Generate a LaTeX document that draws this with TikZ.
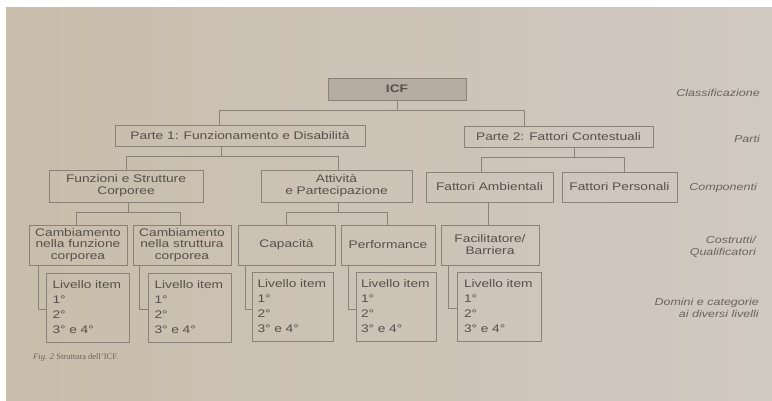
\documentclass[tikz,border=0pt]{standalone}
\usepackage{fontspec}
\setmainfont{Liberation Sans}[FakeStretch=1.25]
\newfontfamily\capfont{Liberation Serif}
\usetikzlibrary{calc}
\definecolor{bgl}{HTML}{C9BDAB}
\definecolor{bgr}{HTML}{D0C9C2}
\definecolor{txt}{HTML}{57504A}
\definecolor{lbl}{HTML}{6A625B}
\definecolor{ln}{HTML}{8A8279}
\definecolor{icffill}{HTML}{B5ACA2}
\newcommand{\lvtext}{\mbox{Livello item}\\1°\\2°\\3° e 4°}
\tikzset{
  box/.style={draw=ln, line width=0.9pt, inner sep=0pt, align=center, text=txt,
    font=\fontsize{11}{12}\selectfont},
  lvbox/.style={draw=ln, line width=0.9pt, inner ysep=0pt, align=left, text width=70pt,
    text=txt, minimum height=69pt, font=\fontsize{11}{15}\selectfont},
  conn/.style={draw=ln, line width=0.9pt},
  side/.style={anchor=east, align=right, text=lbl, inner sep=0pt,
    font=\fontsize{10}{11.5}\selectfont\itshape}
}
\begin{document}
\begin{tikzpicture}[x=1pt,y=-1pt]
\useasboundingbox (0,0) rectangle (772,401);
\fill[white] (0,0) rectangle (772,401);
\shade[left color=bgl, right color=bgr] (6,8) rectangle (772,401);

% level 0
\node[box, fill=icffill, minimum width=138pt, minimum height=22pt, font=\fontsize{11}{12}\selectfont\bfseries] (icf) at (397,89) {ICF};
% level 1
\node[box, minimum width=250pt, minimum height=21pt] (p1) at (240,135.5) {Parte 1: Funzionamento e Disabilità};
\node[box, minimum width=189pt, minimum height=21pt] (p2) at (558.5,136.5) {Parte 2: Fattori Contestuali};
% level 2
\node[box, minimum width=154pt, minimum height=32pt] (fsc) at (126,186) {Funzioni e Strutture\\Corporee};
\node[box, minimum width=151pt, minimum height=32pt] (ap) at (336.5,186) {Attività\\e Partecipazione};
\node[box, minimum width=127pt, minimum height=30pt] (fa) at (489.5,187) {Fattori Ambientali};
\node[box, minimum width=115pt, minimum height=30pt] (fp) at (619.5,187) {Fattori Personali};
% level 3
\node[box, minimum width=98pt, minimum height=40pt, font=\fontsize{11}{11.5}\selectfont] (c1) at (78,245) {Cambiamento\\nella funzione\\corporea};
\node[box, minimum width=98pt, minimum height=40pt, font=\fontsize{11}{11.5}\selectfont] (c2) at (182,245) {Cambiamento\\nella struttura\\corporea};
\node[box, minimum width=97pt, minimum height=40pt] (cap) at (286.5,245) {Capacità};
\node[box, minimum width=94pt, minimum height=40pt] (perf) at (388,245) {Performance};
\node[box, minimum width=98pt, minimum height=40pt] (fb) at (490,245) {Facilitatore/\\Barriera};
% level 4
\node[lvbox, inner xsep=6.5pt] (l1) at (87.5,307.5) {\lvtext};
\node[lvbox, inner xsep=6.5pt] (l2) at (189.5,307.5) {\lvtext};
\node[lvbox, inner xsep=5.5pt] (l3) at (292.5,306.5) {\lvtext};
\node[lvbox, inner xsep=5pt] (l4) at (396,306.5) {\lvtext};
\node[lvbox, inner xsep=7pt] (l5) at (499,306.5) {\lvtext};

% connectors level 0 -> 1
\coordinate (a1) at (219,110);
\coordinate (a2) at (524,110);
\draw[conn] (icf.south) -- (icf.south |- a1);
\draw[conn] (a1) -- (a2);
\draw[conn] (a1) -- (a1 |- p1.north);
\draw[conn] (a2) -- (a2 |- p2.north);
% parte 1 -> components
\coordinate (b0) at (221,156);
\coordinate (b1) at (126,156);
\coordinate (b2) at (338,156);
\draw[conn] (b0 |- p1.south) -- (b0);
\draw[conn] (b1) -- (b2);
\draw[conn] (b1) -- (b1 |- fsc.north);
\draw[conn] (b2) -- (b2 |- ap.north);
% parte 2 -> components
\coordinate (e0) at (574,157);
\coordinate (e1) at (481,157);
\coordinate (e2) at (624,157);
\draw[conn] (e0 |- p2.south) -- (e0);
\draw[conn] (e1) -- (e2);
\draw[conn] (e1) -- (e1 |- fa.north);
\draw[conn] (e2) -- (e2 |- fp.north);
% funzioni -> cambiamenti
\coordinate (f0) at (128,212);
\coordinate (f1) at (76,212);
\coordinate (f2) at (180,212);
\draw[conn] (f0 |- fsc.south) -- (f0);
\draw[conn] (f1) -- (f2);
\draw[conn] (f1) -- (f1 |- c1.north);
\draw[conn] (f2) -- (f2 |- c2.north);
% attivita -> capacita / performance
\coordinate (g0) at (338,212);
\coordinate (g1) at (286,212);
\coordinate (g2) at (387,212);
\draw[conn] (g0 |- ap.south) -- (g0);
\draw[conn] (g1) -- (g2);
\draw[conn] (g1) -- (g1 |- cap.north);
\draw[conn] (g2) -- (g2 |- perf.north);
% ambientali -> facilitatore
\coordinate (h0) at (488,202);
\draw[conn] (h0 |- fa.south) -- (h0 |- fb.north);
% brackets to livello boxes
\coordinate (k1) at (38,309);
\coordinate (k2) at (139,309);
\coordinate (k3) at (245,309);
\coordinate (k4) at (348,309);
\coordinate (k5) at (448,308);
\draw[conn] (k1 |- c1.south) -- (k1) -- (k1 -| l1.west);
\draw[conn] (k2 |- c2.south) -- (k2) -- (k2 -| l2.west);
\draw[conn] (k3 |- cap.south) -- (k3) -- (k3 -| l3.west);
\draw[conn] (k4 |- perf.south) -- (k4) -- (k4 -| l4.west);
\draw[conn] (k5 |- fb.south) -- (k5) -- (k5 -| l5.west);

% side labels
\node[side] (s1) at (760,93) {Classificazione};
\node[side] (s2) at (760,139) {Parti};
\node[side] (s3) at (757,188) {Componenti};
\node[side] (s4) at (756,247) {Costrutti/\\Qualificatori};
\node[side] (s5) at (759,308) {Domini e categorie\\ai diversi livelli};

% caption
\node[anchor=west, inner sep=0pt, text=lbl, font=\capfont\fontsize{8.5}{9}\selectfont] (cap0) at (33,357) {\textit{Fig. 2} Struttura dell’ICF.};
\end{tikzpicture}
\end{document}
